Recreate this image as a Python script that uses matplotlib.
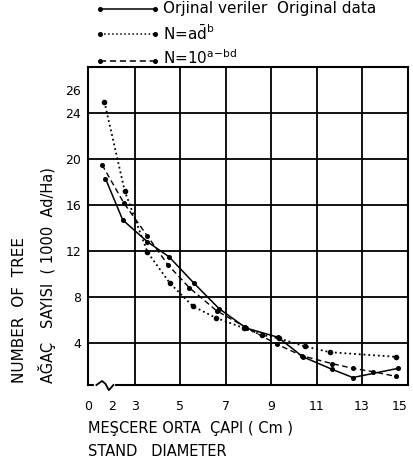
import matplotlib
matplotlib.use("Agg")
import matplotlib.pyplot as plt
from matplotlib.lines import Line2D

plt.rcParams['font.family'] = ['DejaVu Sans']
plt.rcParams['mathtext.fontset'] = 'dejavusans'

# Original data
d_orig = [1.7, 2.46, 3.55, 4.5, 5.6, 6.7, 7.9, 9.3, 10.4, 11.7, 12.6, 14.6]
n_orig = [18.3, 14.7, 12.8, 11.5, 9.2, 7.0, 5.3, 4.5, 2.8, 1.7, 1.0, 1.8]
# N = a d^-b
d_pow = [1.65, 2.55, 3.55, 4.54, 5.55, 6.55, 7.8, 8.6, 9.35, 10.5, 11.6, 14.5]
n_pow = [25.0, 17.2, 11.9, 9.2, 7.2, 6.2, 5.3, 4.7, 4.4, 3.7, 3.2, 2.8]
# N = 10^(a-bd)
d_exp = [1.55, 2.5, 3.55, 4.45, 5.4, 6.6, 7.85, 9.25, 10.35, 11.7, 12.6, 13.5, 14.5]
n_exp = [19.5, 16.2, 13.3, 10.8, 8.8, 6.8, 5.4, 3.9, 2.9, 2.2, 1.8, 1.5, 1.1]

xtick_pos = [0.93, 2, 3, 5, 7, 9, 11, 13, 15]
xtick_lab = ["0", "2", "3", "5", "7", "9", "11", "13", "15"]
ytick_pos = [4, 8, 12, 16, 20, 24, 26]
ytick_lab = ["4", "8", "12", "16", "20", "24", "26"]

fig = plt.figure(figsize=(4.13, 4.66), dpi=100)
ax = fig.add_axes([88/413, (466-385)/466, (408-88)/413, (385-67)/466])
ax.set_xlim(0.93, 15.03)
ax.set_ylim(0.35, 28)

ax.plot(d_orig, n_orig, '-', color='black', lw=1.1, marker='o', ms=2.6, zorder=3)
ax.plot(d_pow, n_pow, ':', color='black', lw=1.3, marker='o', ms=3.0, zorder=3)
ax.plot(d_exp, n_exp, '--', color='black', lw=1.0, dashes=(4, 2.5), marker='o', ms=2.6, zorder=3)

ax.set_xticks(xtick_pos)
ax.set_xticklabels(xtick_lab)
ax.set_yticks(ytick_pos)
ax.set_yticklabels(ytick_lab)
ax.tick_params(length=0, labelsize=9)
ax.tick_params(axis='x', pad=11)
ax.tick_params(axis='y', pad=5)
ax.xaxis.get_majorticklabels()[-1].set_horizontalalignment('right')
ax.grid(True, color='black', lw=1.3)
for i, gl in enumerate(ax.xaxis.get_gridlines()):
    if xtick_pos[i] in (0.93, 2, 15):
        gl.set_visible(False)
for i, gl in enumerate(ax.yaxis.get_gridlines()):
    if ytick_pos[i] == 26:
        gl.set_visible(False)
ax.set_axisbelow(True)
for s in ax.spines.values():
    s.set_linewidth(1.5)

# axis break symbol on the x axis
y0 = 0.35
ax.plot([1.3, 2.05], [y0, y0], color='white', lw=3, clip_on=False, zorder=4)
ax.plot([1.3, 1.55, 1.7, 1.85, 2.05], [y0, y0 + 0.35, y0 + 0.1, y0 - 0.45, y0],
        color='black', lw=1.3, clip_on=False, zorder=5, solid_joinstyle='round')

# legend (manual)
def leg_line(y, ls, dashes=None):
    kw = dict(color='black', lw=1.1, ls=ls, marker='o', ms=2.6, markevery=[0, 1],
              transform=fig.transFigure)
    if dashes:
        kw['dashes'] = dashes
    fig.add_artist(Line2D([100/413, 155/413], [y, y], **kw))

leg_line(1 - 9/466, '-')
leg_line(1 - 34/466, ':')
leg_line(1 - 61/466, '--', dashes=(4, 2.5))
fig.text(163/413, 1 - 9/466, "Orjinal veriler  Original data", fontsize=11, va='center')
fig.text(163/413, 1 - 33/466, r"N=a$\bar{\mathrm{d}}^{\mathrm{b}}$", fontsize=11, va='center')
fig.text(163/413, 1 - 58/466, r"N=10$^{\mathrm{a{-}bd}}$", fontsize=11, va='center')

# axis labels
fig.text(88/413, 1 - 428/466, "MEŞCERE ORTA  ÇAPI ( Cm )", fontsize=10.5, va='center', ha='left')
fig.text(88/413, 1 - 451/466, "STAND   DIAMETER", fontsize=10.5, va='center', ha='left')
fig.text(20/413, 1 - 383/466, "NUMBER  OF  TREE", fontsize=11, rotation=90, va='bottom', ha='center')
fig.text(47/413, 1 - 383/466, "AĞAÇ   SAYISI  ( 1000  Ad/Ha)", fontsize=10.5, rotation=90, va='bottom', ha='center')

fig.savefig("out.png", dpi=100)
